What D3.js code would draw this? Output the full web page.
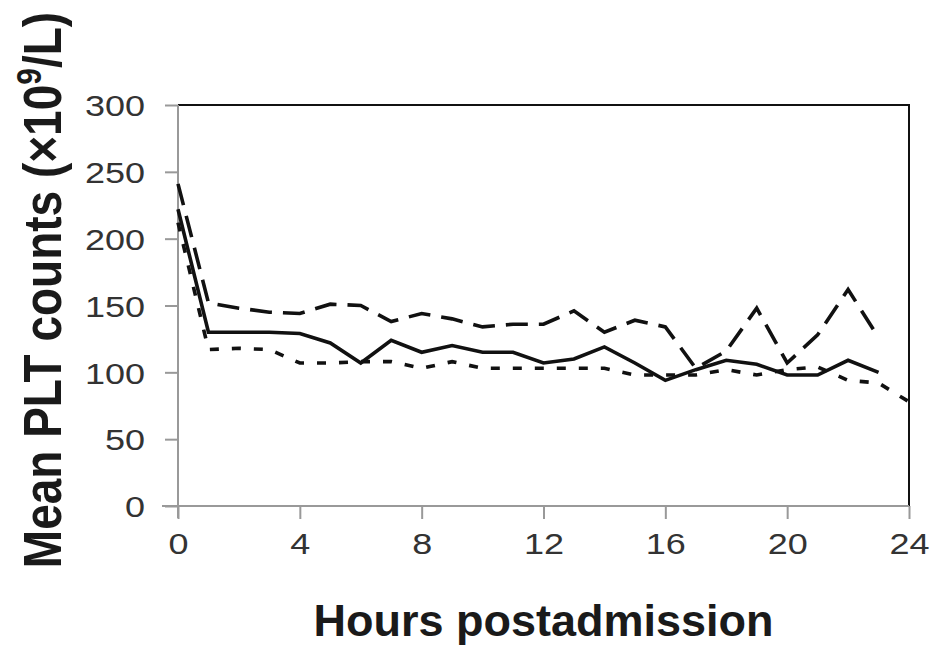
<!DOCTYPE html>
<html>
<head>
<meta charset="utf-8">
<script src="https://cdn.jsdelivr.net/npm/d3@7"></script>
<style>
  body { margin: 0; background: #fff; }
  svg { display: block; }
</style>
</head>
<body>
<svg width="932" height="647"></svg>
<script>
// hours 0..23 (dotted series runs to 24)
const hours = d3.range(0, 24)
const hoursDotted = d3.range(0, 25)
const solidValues = [222, 130, 130, 130, 129, 122, 107, 124, 115, 120, 115, 115, 107, 110, 119, 107, 94, 102, 109, 106, 98, 98, 109, 100]
const longDashValues = [241, 152, 148, 145, 144, 151, 150, 138, 144, 140, 134, 136, 136, 146, 130, 139, 134, 103, 116, 148, 107, 128, 162, 126]
const dottedValues = [212, 117, 118, 117, 107, 107, 108, 108, 103, 108, 103, 103, 103, 103, 103, 98, 98, 98, 102, 98, 102, 104, 94, 92, 78]
const xTicks = [0, 4, 8, 12, 16, 20, 24]
const yTicks = [0, 50, 100, 150, 200, 250, 300]

const svg = d3.select("svg")
const margin = {left: 178, right: 23, top: 105, bottom: 141}
const width = 932 - margin.left - margin.right
const height = 647 - margin.top - margin.bottom
const font = "Liberation Sans, Arial, sans-serif"
const stretch = 1.2  // tick labels look wider than plain Arial

const x = d3.scaleLinear().domain([0, 24]).range([0, width])
const y = d3.scaleLinear().domain([0, 300]).range([height, 0])

const g = svg.append("g")
  .attr("transform", "translate(" + margin.left + "," + margin.top + ")")

// top and right frame (black)
g.append("path")
  .attr("d", "M0,0H" + width + "V" + height)
  .attr("fill", "none")
  .attr("stroke", "#111")
  .attr("stroke-width", 2)

const yAxis = g.append("g")
  .call(d3.axisLeft(y).tickValues(yTicks).tickSize(13).tickPadding(20).tickSizeOuter(0))
yAxis.select(".domain").attr("stroke", "#999").attr("stroke-width", 2)
  .attr("d", "M0," + (height + 12) + "V0")
yAxis.selectAll(".tick line").attr("stroke", "#999").attr("stroke-width", 2)
yAxis.selectAll(".tick text")
  .attr("fill", "#333")
  .style("font-family", font)
  .style("font-size", "30px")
  .attr("x", -33 / stretch)
  .attr("dy", "0.36em")
  .attr("transform", "scale(" + stretch + ",1)")

const xAxis = g.append("g")
  .attr("transform", "translate(0," + height + ")")
  .call(d3.axisBottom(x).tickValues(xTicks).tickSize(13).tickPadding(14).tickSizeOuter(0))
xAxis.select(".domain").attr("stroke", "#999").attr("stroke-width", 2)
  .attr("d", "M-16,0H" + width)
xAxis.selectAll(".tick line").attr("stroke", "#999").attr("stroke-width", 2)
xAxis.selectAll(".tick text")
  .attr("fill", "#333")
  .style("font-family", font)
  .style("font-size", "30px")
  .attr("transform", "scale(" + stretch + ",1)")

const line = d3.line()
  .x(d => x(d[0]))
  .y(d => y(d[1]))

const series = [
  {values: solidValues, xs: hours, dash: null},
  {values: longDashValues, xs: hours, dash: "22,11"},
  {values: dottedValues, xs: hoursDotted, dash: "9,13"}
]

g.selectAll(".series")
  .data(series)
  .enter().append("path")
  .attr("class", "series")
  .attr("d", s => line(s.xs.map((h, i) => [h, s.values[i]])))
  .attr("fill", "none")
  .attr("stroke", "#111")
  .attr("stroke-width", 3.6)
  .attr("stroke-dasharray", s => s.dash)

// axis titles
svg.append("text")
  .attr("x", margin.left + width / 2)
  .attr("y", 636)
  .attr("text-anchor", "middle")
  .style("font-family", font)
  .style("font-weight", "bold")
  .style("font-size", "45px")
  .attr("fill", "#1a1a1a")
  .text("Hours postadmission")

// y title: glyphs are a little stretched across the page in the reference
const yTitle = svg.append("text")
  .attr("transform", "translate(61,290) rotate(-90) scale(1,1.15)")
  .attr("text-anchor", "middle")
  .style("font-family", font)
  .style("font-weight", "bold")
  .style("font-size", "46px")
  .attr("fill", "#1a1a1a")
yTitle.append("tspan").text("Mean PLT counts (×10")
yTitle.append("tspan").attr("dy", -17).style("font-size", "30px").text("9")
yTitle.append("tspan").attr("dy", 17).text("/L)")
</script>
</body>
</html>
